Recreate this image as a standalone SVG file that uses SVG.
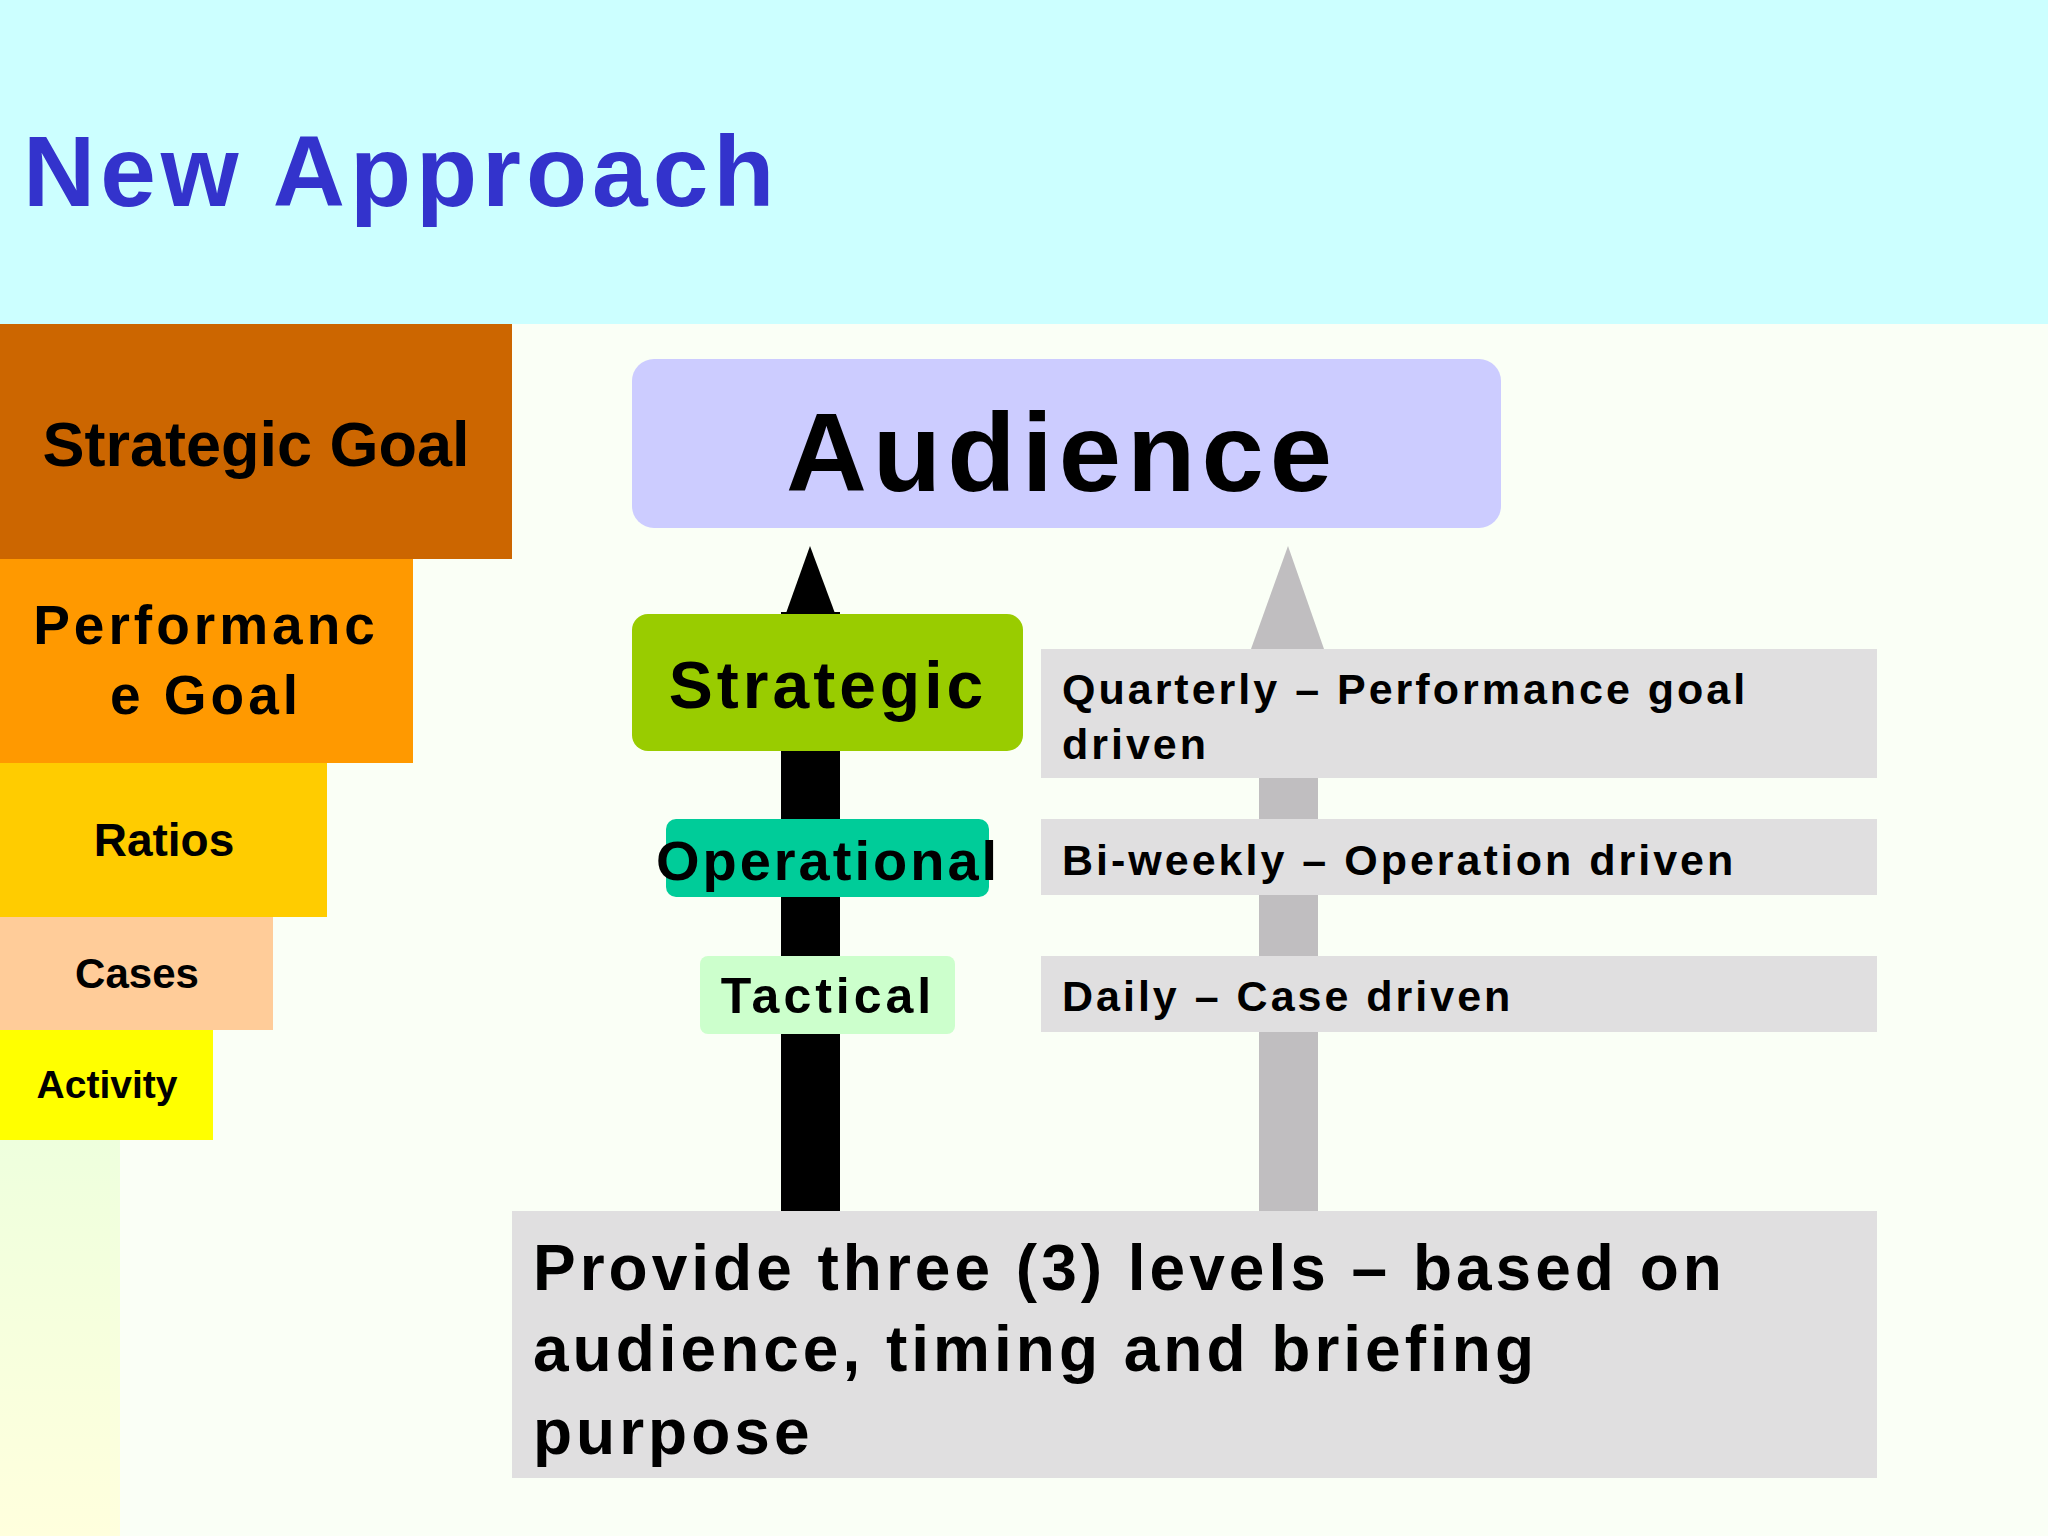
<svg xmlns="http://www.w3.org/2000/svg" width="2048" height="1536" viewBox="0 0 2048 1536">
<defs>
<linearGradient id="lg" x1="0" y1="0" x2="0" y2="1"><stop offset="0" stop-color="#EEFFDD"/><stop offset="1" stop-color="#FFFFDD"/></linearGradient>
<style>
text{font-family:"Liberation Sans",Arial,sans-serif;font-weight:bold;fill:#000}
.row{fill:#E0DFE0}
.rt{font-size:43px;letter-spacing:3px}
</style>
</defs>
<rect width="2048" height="1536" fill="#FAFFF6"/>
<rect width="2048" height="324" fill="#CCFFFF"/>
<rect x="0" y="1140" width="120" height="396" fill="url(#lg)"/>
<text x="23" y="206" font-size="100" fill="#3333CC" style="fill:#3333CC;letter-spacing:5px">New Approach</text>
<g id="strategic-goal"><rect x="0" y="324" width="512" height="235" fill="#CC6600"/><text x="256" y="466" font-size="63" text-anchor="middle">Strategic Goal</text></g>
<g id="performance-goal"><rect x="0" y="559" width="413" height="204" fill="#FF9900"/><text x="206" y="644" font-size="55" text-anchor="middle" letter-spacing="4">Performanc</text><text x="206" y="714" font-size="55" text-anchor="middle" letter-spacing="4">e Goal</text></g>
<g id="ratios"><rect x="0" y="763" width="327" height="154" fill="#FFCC00"/><text x="164" y="856" font-size="46" text-anchor="middle">Ratios</text></g>
<g id="cases"><rect x="0" y="917" width="273" height="113" fill="#FFCC99"/><text x="137" y="988" font-size="42" text-anchor="middle">Cases</text></g>
<g id="activity"><rect x="0" y="1030" width="213" height="110" fill="#FFFF00"/><text x="107" y="1098" font-size="39" text-anchor="middle">Activity</text></g>
<g id="connectors">
<rect x="781" y="612" width="59" height="599" fill="#000"/>
<polygon points="810,546 785,616 836,616" fill="#000"/>
<rect x="1259" y="647" width="59" height="564" fill="#C0BEC0"/>
<polygon points="1288,546 1251,649 1324,649" fill="#C0BEC0"/>
</g>
<g id="audience"><rect x="632" y="359" width="869" height="169" rx="22" fill="#CCCCFF"/><text x="1062" y="491" font-size="112" text-anchor="middle" letter-spacing="6">Audience</text></g>
<g id="strategic"><rect x="632" y="614" width="391" height="137" rx="16" fill="#99CC00"/><text x="828" y="708" font-size="66" text-anchor="middle" letter-spacing="4">Strategic</text></g>
<g id="operational"><rect x="666" y="819" width="323" height="78" rx="10" fill="#00CC99"/><text x="828" y="880" font-size="56" text-anchor="middle" letter-spacing="3">Operational</text></g>
<g id="tactical"><rect x="700" y="956" width="255" height="78" rx="8" fill="#CCFFCC"/><text x="828" y="1013" font-size="50" text-anchor="middle" letter-spacing="4">Tactical</text></g>
<g id="quarterly"><rect class="row" x="1041" y="649" width="836" height="129"/><text class="rt" x="1062" y="704">Quarterly – Performance goal</text><text class="rt" x="1062" y="759">driven</text></g>
<g id="biweekly"><rect class="row" x="1041" y="819" width="836" height="76"/><text class="rt" x="1062" y="875">Bi-weekly – Operation driven</text></g>
<g id="daily"><rect class="row" x="1041" y="956" width="836" height="76"/><text class="rt" x="1062" y="1011">Daily – Case driven</text></g>
<g id="summary"><rect class="row" x="512" y="1211" width="1365" height="267"/>
<text x="533" y="1290" font-size="64" letter-spacing="4">Provide three (3) levels – based on</text>
<text x="533" y="1371" font-size="64" letter-spacing="4">audience, timing and briefing</text>
<text x="533" y="1454" font-size="64" letter-spacing="4">purpose</text></g>
</svg>
